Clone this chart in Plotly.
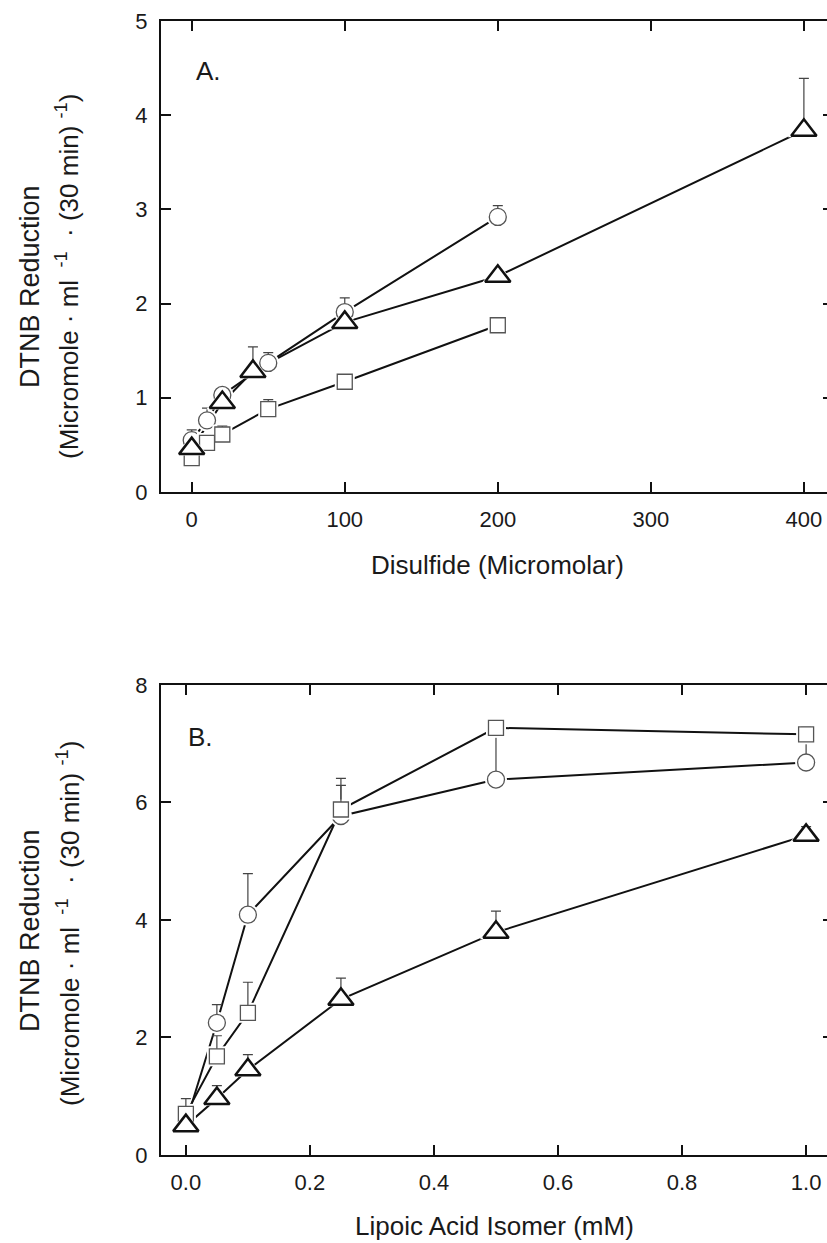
import plotly.graph_objects as go

# ---------------- Data ----------------
# Panel A: Disulfide (Micromolar)
a_circle_x = [0, 10, 20, 50, 100, 200]
a_circle_y = [0.55, 0.76, 1.03, 1.37, 1.91, 2.92]
a_circle_err = [0.11, 0.13, 0.03, 0.11, 0.15, 0.12]

a_square_x = [0, 10, 20, 50, 100, 200]
a_square_y = [0.36, 0.52, 0.61, 0.88, 1.17, 1.77]
a_square_err = [0.02, 0.03, 0.09, 0.10, 0.07, 0.08]

a_tri_x = [0, 20, 40, 100, 200, 400]
a_tri_y = [0.46, 0.95, 1.28, 1.80, 2.29, 3.84]
a_tri_err = [0.05, 0.06, 0.26, 0.05, 0.03, 0.55]

# Panel B: Lipoic Acid Isomer (mM)
b_x = [0, 0.05, 0.1, 0.25, 0.5, 1.0]
b_circle_y = [0.55, 2.25, 4.09, 5.77, 6.39, 6.68]
b_circle_err = [0.10, 0.31, 0.70, 0.52, 0.80, 0.40]
b_square_y = [0.70, 1.68, 2.42, 5.88, 7.27, 7.16]
b_square_err = [0.26, 0.35, 0.52, 0.53, 0.11, 0.12]
b_tri_y = [0.50, 0.96, 1.45, 2.65, 3.79, 5.44]
b_tri_err = [0.05, 0.22, 0.26, 0.36, 0.36, 0.15]

a_xticks = [0, 100, 200, 300, 400]
a_yticks = [0, 1, 2, 3, 4, 5]
b_xticks = [0, 0.2, 0.4, 0.6, 0.8, 1.0]
b_xticklabels = ["0.0", "0.2", "0.4", "0.6", "0.8", "1.0"]
b_yticks = [0, 2, 4, 6, 8]

# ---------------- Styles ----------------
FONT = "Liberation Sans, Arial, sans-serif"
TXT = "#1a1a1a"
GRAY = "#555555"

styles = {
    "circle": dict(symbol="circle", size=17, color=GRAY, lw=1.3, halo=22),
    "square": dict(symbol="square", size=15, color=GRAY, lw=1.3, halo=20),
    "tri": dict(symbol="triangle-up", size=22, color="#111111", lw=2.5, halo=28),
}

fig = go.Figure()

panels = [
    ("x", "y", [
        ("circle", a_circle_x, a_circle_y, a_circle_err),
        ("square", a_square_x, a_square_y, a_square_err),
        ("tri", a_tri_x, a_tri_y, a_tri_err),
    ]),
    ("x2", "y2", [
        ("circle", b_x, b_circle_y, b_circle_err),
        ("square", b_x, b_square_y, b_square_err),
        ("tri", b_x, b_tri_y, b_tri_err),
    ]),
]

for xa, ya, series in panels:
    # connecting lines
    for kind, xs, ys, es in series:
        fig.add_trace(go.Scatter(x=xs, y=ys, mode="lines", xaxis=xa, yaxis=ya,
                                 line=dict(color="#111111", width=2.0),
                                 showlegend=False, hoverinfo="skip"))
    # markers with white halo (gap between lines and symbols)
    for kind, xs, ys, es in series:
        st = styles[kind]
        fig.add_trace(go.Scatter(x=xs, y=ys, mode="markers", xaxis=xa, yaxis=ya,
                                 marker=dict(symbol=st["symbol"], size=st["halo"],
                                             color="white", line=dict(width=0)),
                                 cliponaxis=False,
                                 showlegend=False, hoverinfo="skip"))
        fig.add_trace(go.Scatter(
            x=xs, y=ys, mode="markers", xaxis=xa, yaxis=ya,
            marker=dict(symbol=st["symbol"], size=st["size"], color="white",
                        line=dict(color=st["color"], width=st["lw"])),
            error_y=dict(type="data", symmetric=False, array=es,
                         arrayminus=[0] * len(es), color="#444444",
                         thickness=1.2, width=5),
            cliponaxis=False,
            showlegend=False))

axis_common = dict(
    showline=True, linecolor="#111111", linewidth=2, ticks="inside",
    ticklen=10, tickwidth=2, tickcolor="#111111", showgrid=False,
    zeroline=False, tickfont=dict(family=FONT, size=22, color=TXT),
    ticklabelstandoff=7,
)

fig.update_layout(
    width=827, height=1243,
    margin=dict(l=161, r=0, t=21, b=88),
    paper_bgcolor="white", plot_bgcolor="white",
    font=dict(family=FONT, color=TXT),
    xaxis=dict(axis_common, domain=[0, 1], anchor="y", range=[-20.07, 415.1],
               tickvals=a_xticks, mirror="ticks"),
    yaxis=dict(axis_common, domain=[0.5847, 1.0], anchor="x", range=[0, 5],
               tickvals=a_yticks),
    xaxis2=dict(axis_common, domain=[0, 1], anchor="y2", range=[-0.0401, 1.0337],
                tickvals=b_xticks, ticktext=b_xticklabels, mirror="ticks"),
    yaxis2=dict(axis_common, domain=[0.0, 0.4145], anchor="x2", range=[0, 8],
                tickvals=b_yticks),
    yaxis3=dict(overlaying="y", anchor="x", side="right", range=[0, 5],
                tickvals=a_yticks, showticklabels=False, showline=False,
                ticks="inside", ticklen=4, tickwidth=2, tickcolor="#111111",
                showgrid=False, zeroline=False),
    yaxis4=dict(overlaying="y2", anchor="x2", side="right", range=[0, 8],
                tickvals=b_yticks, showticklabels=False, showline=False,
                ticks="inside", ticklen=4, tickwidth=2, tickcolor="#111111",
                showgrid=False, zeroline=False),
)

# invisible traces so the right-hand tick axes are drawn
fig.add_trace(go.Scatter(x=[None], y=[None], xaxis="x", yaxis="y3", showlegend=False, hoverinfo="skip"))
fig.add_trace(go.Scatter(x=[None], y=[None], xaxis="x2", yaxis="y4", showlegend=False, hoverinfo="skip"))

ytitle1 = "DTNB Reduction"
ytitle2 = "(Micromole · ml <sup> -1</sup>  · (30 min) <sup>-1</sup>)"

ann = [
    # panel labels
    dict(text="A.", x=0.072, y=0.956, size=26),
    dict(text="B.", x=0.060, y=0.3686, size=26),
    # x titles
    dict(text="Disulfide (Micromolar)", x=0.505, y=0.5203, size=26),
    dict(text="Lipoic Acid Isomer (mM)", x=0.50, y=-0.0626, size=26),
]
annotations = []
for a in ann:
    annotations.append(dict(text=a["text"], x=a["x"], y=a["y"], xref="paper", yref="paper",
                            xanchor="center", yanchor="middle", showarrow=False,
                            font=dict(family=FONT, size=a["size"], color=TXT)))
for y1, y2 in [(0.7663, 0.7743), (0.1984, 0.2037)]:
    annotations.append(dict(text=ytitle1, x=-0.1967, y=y1, xref="paper", yref="paper",
                            textangle=-90, xanchor="center", yanchor="middle",
                            showarrow=False, font=dict(family=FONT, size=27, color=TXT)))
    annotations.append(dict(text=ytitle2, x=-0.1396, y=y2, xref="paper", yref="paper",
                            textangle=-90, xanchor="center", yanchor="middle",
                            showarrow=False, font=dict(family=FONT, size=26, color=TXT)))
fig.update_layout(annotations=annotations)

fig.write_html(
    "out.html",
    config={"displayModeBar": False},
    post_script="document.body.style.margin='0';document.body.style.overflow='hidden';",
)
